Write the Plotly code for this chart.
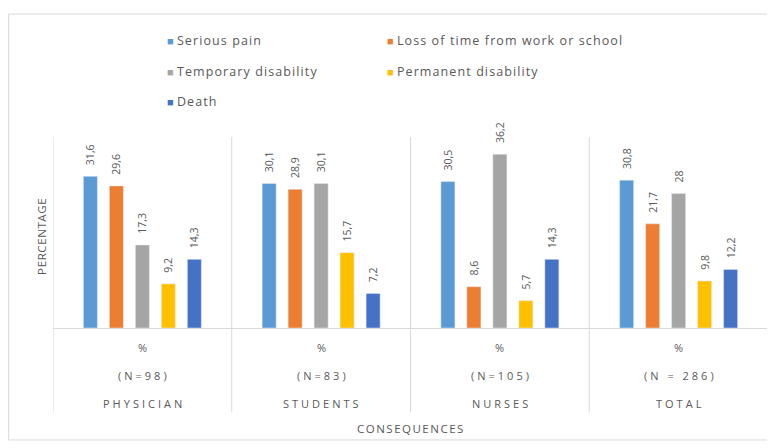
import plotly.graph_objects as go

groups = ["PHYSICIAN", "STUDENTS", "NURSES", "TOTAL"]
group_n = ["(N=98)", "(N=83)", "(N=105)", "(N = 286)"]
unit_label = "%"
series_names = ["Serious pain", "Loss of time from work or school",
                "Temporary disability", "Permanent disability", "Death"]
serious_pain = [31.6, 30.1, 30.5, 30.8]
loss_of_time = [29.6, 28.9, 8.6, 21.7]
temporary = [17.3, 30.1, 36.2, 28.0]
permanent = [9.2, 15.7, 5.7, 9.8]
death = [14.3, 7.2, 14.3, 12.2]
colors = ["#5B9BD5", "#ED7D31", "#A5A5A5", "#FFC000", "#4472C4"]

values = [serious_pain, loss_of_time, temporary, permanent, death]
FONT = "Open Sans"
GREY = "#595959"

def fmt(v):
    return ("%g" % v).replace(".", ",")

def spaced(t, px):
    return '<span style="letter-spacing:%spx">%s</span>' % (px, t)

fig = go.Figure()
for name, vals, col in zip(series_names, values, colors):
    fig.add_trace(go.Bar(
        x=groups, y=vals, name=name, marker_color=col, showlegend=False,
        text=[fmt(v) for v in vals], texttemplate="\u00a0\u00a0\u00a0%{text}",
        textposition="outside", textangle=-90, constraintext="none",
        textfont=dict(family=FONT, size=10.5, color=GREY), cliponaxis=False,
    ))

# legend drawn as a 2-column key
leg_pos = [(0.156, 1.496), (0.464, 1.496), (0.156, 1.335), (0.464, 1.335), (0.156, 1.179)]
for name, col, (lx, ly) in zip(series_names, colors, leg_pos):
    fig.add_annotation(x=lx, y=ly, xref="paper", yref="paper", xanchor="left",
                       yanchor="middle", showarrow=False,
                       text='<span style="color:%s;font-size:11px">■</span> %s'
                            % (col, spaced(name, 1.1)),
                       font=dict(family=FONT, size=12.5, color=GREY))

# category labels (three lines) under each group
for i, g in enumerate(groups):
    for txt, yy, ls in [(unit_label, -0.099, 0), (group_n[i], -0.245, 3), (g, -0.391, 3)]:
        fig.add_annotation(x=g, y=yy, xref="x", yref="paper", text=spaced(txt, ls),
                           showarrow=False, yanchor="middle", xshift=ls / 2.0,
                           font=dict(family=FONT, size=11, color=GREY))

fig.add_annotation(x=0.5, y=-0.521, xref="paper", yref="paper",
                   text=spaced("CONSEQUENCES", 1.5),
                   showarrow=False, yanchor="middle",
                   font=dict(family=FONT, size=11.5, color=GREY))
fig.add_annotation(x=-0.017, y=0.479, xref="paper", yref="paper",
                   text=spaced("PERCENTAGE", 0.6),
                   showarrow=False, textangle=-90, xanchor="center", yanchor="middle",
                   font=dict(family=FONT, size=11.5, color=GREY))

# group dividers
for k in range(len(groups) + 1):
    fig.add_shape(type="line", xref="x", yref="paper", x0=k - 0.5, x1=k - 0.5,
                  y0=-0.44, y1=0.995, line=dict(color="#D9D9D9", width=1))

# outer chart border
fig.add_shape(type="rect", xref="paper", yref="paper", x0=-0.062, x1=1.008,
              y0=-0.583, y1=1.635, line=dict(color="#D9D9D9", width=1))

fig.update_layout(
    width=767, height=440,
    margin=dict(l=45, r=7, t=128, b=120, autoexpand=False),
    paper_bgcolor="white", plot_bgcolor="white",
    barmode="group", bargap=0.273, bargroupgap=0.46,
    showlegend=False,
    xaxis=dict(range=[-0.5, 3.5], showticklabels=False, showline=True,
               linecolor="#D9D9D9", linewidth=1, ticks="", automargin=False),
    yaxis=dict(range=[0, 40], showticklabels=False, showgrid=False,
               zeroline=False, showline=False, ticks="", automargin=False),
)

fig.write_html("out.html")
